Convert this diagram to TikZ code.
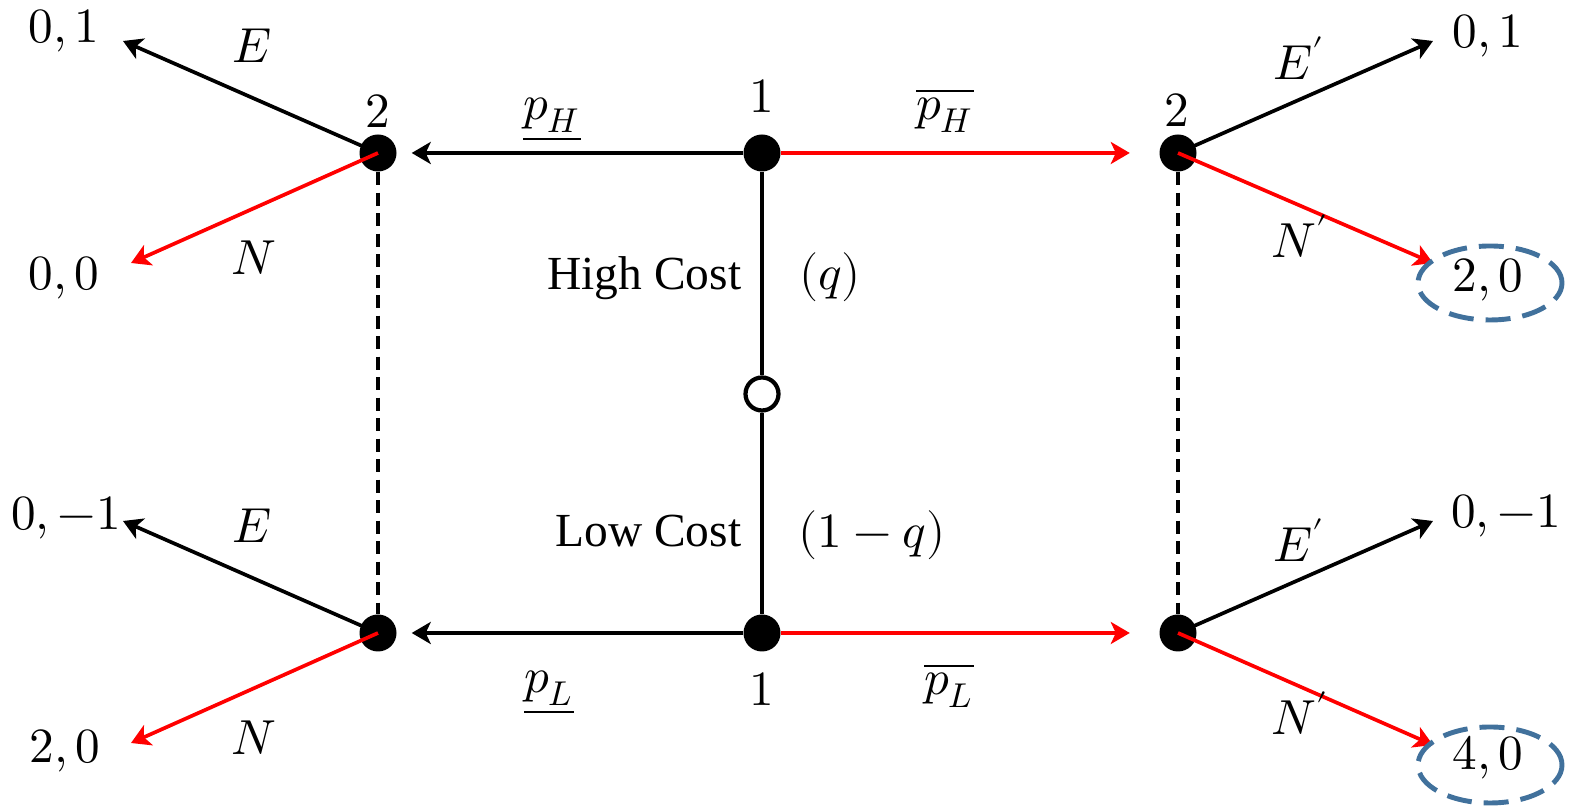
\documentclass[tikz,border=0pt]{standalone}
\usepackage{fontspec}
\usepackage{unicode-math}
\setmainfont{Liberation Serif}
\usetikzlibrary{arrows.meta}
\definecolor{brRed}{RGB}{255,0,0}
\definecolor{eqBlue}{RGB}{65,113,156}
\newcommand{\YH}{6.53}
\newcommand{\YL}{1.73}

\begin{document}
\begin{tikzpicture}[
    fnt/.style={font=\fontsize{14}{16}\selectfont},
    lbl/.style={fnt, anchor=base, inner sep=0pt},
    txt/.style={lbl, font=\fontsize{13.5}{16}\selectfont, anchor=base east},
    move/.style={draw=black, line width=1.05pt,
      -{Stealth[length=0.19cm, width=0.22cm, inset=0.05cm]}},
    redmove/.style={move, draw=brRed},
    dec/.style={circle, fill=black, minimum size=0.37cm, inner sep=0pt},
    nat/.style={circle, draw=black, fill=white, line width=1.2pt,
      minimum size=0.33cm, inner sep=0pt},
    stem/.style={draw=black, line width=1.1pt},
    infoset/.style={draw=black, line width=1.25pt, dash pattern=on 0.13cm off 0.075cm},
    eqring/.style={draw=eqBlue, line width=1.4pt, dash pattern=on 0.25cm off 0.12cm},
  ]
  \useasboundingbox (0,0) rectangle (15.70,8.06);

  %% ================= decision nodes =================
  \node[dec] (lt) at (3.78,\YH) {};
  \node[dec] (lb) at (3.78,\YL) {};
  \node[dec] (ct) at (7.62,\YH) {};
  \node[dec] (cb) at (7.62,\YL) {};
  \node[nat] (nature) at (7.62,4.12) {};
  \node[dec] (rt) at (11.78,\YH) {};
  \node[dec] (rb) at (11.78,\YL) {};

  %% ---- where the receiver's arrows end ----
  \coordinate (tlE) at (1.23,7.65);
  \coordinate (tlN) at (1.31,5.43);
  \coordinate (blE) at (1.23,2.85);
  \coordinate (blN) at (1.31,0.63);
  \coordinate (trE) at (14.33,7.65);
  \coordinate (trN) at (14.33,5.43);
  \coordinate (brE) at (14.33,2.85);
  \coordinate (brN) at (14.33,0.61);

  %% ================= nature and the sender =================
  \draw[stem] (ct) -- (nature);
  \draw[stem] (nature) -- (cb);
  \draw[move, shorten >=0.145cm] (ct) -- (lt);
  \draw[move, shorten >=0.145cm] (cb) -- (lb);
  \draw[redmove, shorten >=0.29cm] (ct) -- (rt);
  \draw[redmove, shorten >=0.29cm] (cb) -- (rb);

  %% ---- information sets of player 2 ----
  \draw[infoset] (lt) -- (lb);
  \draw[infoset] (rt) -- (rb);

  %% ================= the receiver =================
  \draw[move] (lt.center) -- (tlE);
  \draw[redmove] (lt.center) -- (tlN);
  \draw[move] (lb.center) -- (blE);
  \draw[redmove] (lb.center) -- (blN);
  \draw[move] (rt.center) -- (trE);
  \draw[redmove] (rt.center) -- (trN);
  \draw[move] (rb.center) -- (brE);
  \draw[redmove] (rb.center) -- (brN);

  %% ---- equilibrium payoffs ----
  \draw[eqring] (14.90,5.23) ellipse [x radius=0.72, y radius=0.37];
  \draw[eqring] (14.90,0.41) ellipse [x radius=0.72, y radius=0.38];

  %% ================= labels =================
  \node[lbl] (plH) at (0.64,7.63) {$0,1$};
  \node[lbl] (plHn) at (0.64,5.16) {$0,0$};
  \node[lbl] (plL) at (0.66,2.76) {$0,-1$};
  \node[lbl] (plLn) at (0.65,0.43) {$2,0$};
  \node[lbl] (prH) at (14.88,7.58) {$0,1$};
  \node[lbl] (prHn) at (14.88,5.14) {$2,0$};
  \node[lbl] (prL) at (15.06,2.78) {$0,-1$};
  \node[lbl] (prLn) at (14.88,0.36) {$4,0$};

  \node[lbl] (eTL) at (2.52,7.43) {$E$};
  \node[lbl] (nTL) at (2.54,5.31) {$N$};
  \node[lbl] (eBL) at (2.52,2.63) {$E$};
  \node[lbl] (nBL) at (2.54,0.51) {$N$};
  \node[lbl] (eTR) at (12.99,7.26) {$E'$};
  \node[lbl] (nTR) at (13.00,5.48) {$N'$};
  \node[lbl] (eBR) at (12.99,2.44) {$E'$};
  \node[lbl] (nBR) at (13.00,0.71) {$N'$};

  \node[lbl] (twoL) at (3.78,6.78) {$2$};
  \node[lbl] (twoR) at (11.77,6.79) {$2$};
  \node[lbl] (oneH) at (7.62,6.93) {$1$};
  \node[lbl] (oneL) at (7.62,1.00) {$1$};

  \node[lbl] (pHlo) at (5.52,6.86) {$\underline{p_H}$};
  \node[lbl] (pHhi) at (9.45,6.86) {$\overline{p_H}$};
  \node[lbl] (pLlo) at (5.49,1.13) {$\underline{p_L}$};
  \node[lbl] (pLhi) at (9.49,1.11) {$\overline{p_L}$};

  \node[txt] (hic) at (7.42,5.16) {High Cost};
  \node[lbl] (pq) at (8.30,5.16) {$(q)$};
  \node[txt] (loc) at (7.42,2.59) {Low Cost};
  \node[lbl] (p1q) at (8.72,2.58) {$(1-q)$};

\end{tikzpicture}
\end{document}
